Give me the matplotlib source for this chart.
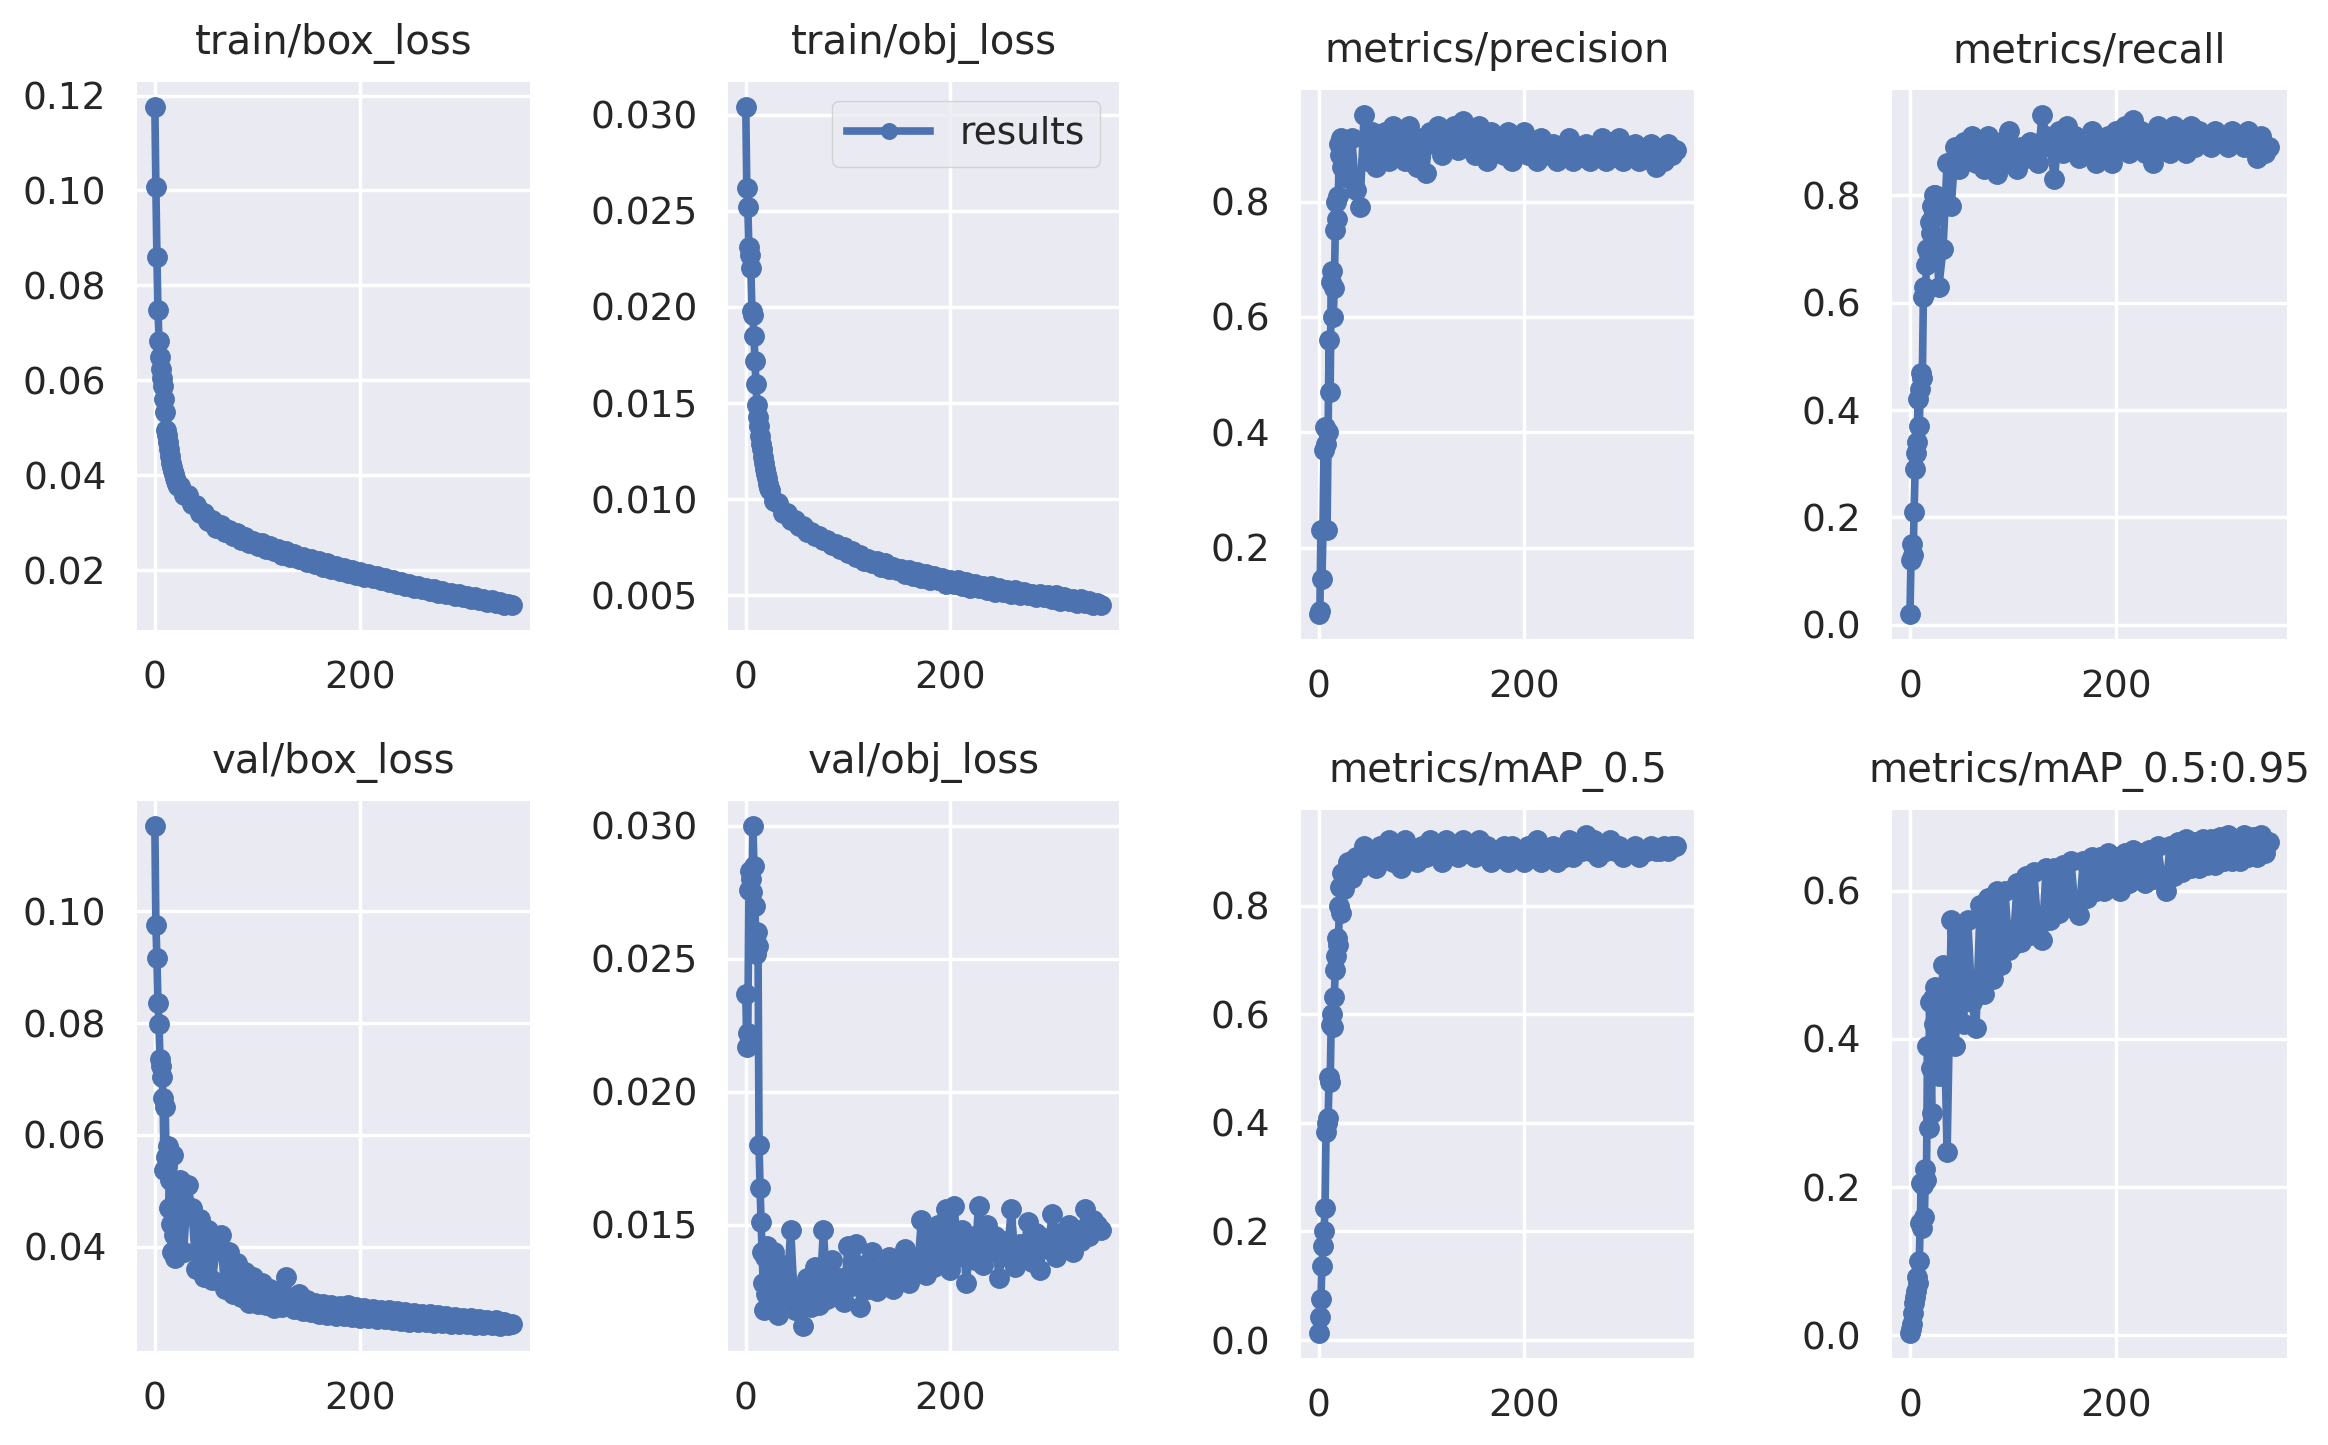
import matplotlib
matplotlib.use('Agg')
import matplotlib.pyplot as plt

# epochs: every epoch for the first 24, then every 4th epoch
epoch = list(range(0, 24)) + list(range(24, 349, 4))

train_box_loss = [
    0.1176, 0.1007, 0.0859, 0.0748, 0.0684, 0.0650, 0.0625, 0.0605, 0.0588, 0.0560, 0.0534, 0.0495,
    0.0485, 0.0470, 0.0455, 0.0440, 0.0427, 0.0418, 0.0410, 0.0402, 0.0395, 0.0388, 0.0382, 0.0377,
    0.0378, 0.0358, 0.0358, 0.0340, 0.0338, 0.0320, 0.0321, 0.0305, 0.0306, 0.0290,
    0.0295, 0.0281, 0.0286, 0.0273, 0.0278, 0.0265, 0.0270, 0.0257, 0.0262, 0.0252,
    0.0258, 0.0245, 0.0251, 0.0240, 0.0246, 0.0233, 0.0241, 0.0228, 0.0235, 0.0223,
    0.0229, 0.0217, 0.0224, 0.0213, 0.0219, 0.0208, 0.0215, 0.0203, 0.0210, 0.0199,
    0.0205, 0.0195, 0.0201, 0.0191, 0.0197, 0.0187, 0.0193, 0.0183, 0.0188, 0.0179,
    0.0184, 0.0175, 0.0180, 0.0171, 0.0176, 0.0168, 0.0172, 0.0164, 0.0168, 0.0160,
    0.0164, 0.0156, 0.0160, 0.0153, 0.0157, 0.0150, 0.0153, 0.0146, 0.0150, 0.0143,
    0.0146, 0.0140, 0.0143, 0.0137, 0.0140, 0.0134, 0.0137, 0.0131, 0.0134, 0.0128,
    0.0130, 0.0127,
]

train_obj_loss = [
    0.0304, 0.0262, 0.0252, 0.0231, 0.0227, 0.0220, 0.0198, 0.0196, 0.0185, 0.0172, 0.0160, 0.0149,
    0.0143, 0.0138, 0.0133, 0.0129, 0.0126, 0.0122, 0.0119, 0.0116, 0.0113, 0.0111, 0.0108, 0.0106,
    0.0105, 0.0099, 0.0098, 0.0093, 0.0093, 0.0089, 0.0089, 0.0086, 0.0086, 0.0083,
    0.0083, 0.0081, 0.0081, 0.0079, 0.0079, 0.0076, 0.0077, 0.0074, 0.0075, 0.0072,
    0.0073, 0.0070, 0.0071, 0.0068, 0.0069, 0.0067, 0.0068, 0.0065, 0.0067, 0.0064,
    0.0065, 0.0063, 0.0064, 0.0061, 0.0063, 0.0060, 0.0062, 0.0059, 0.0061, 0.0058,
    0.0060, 0.0058, 0.0059, 0.0056, 0.0058, 0.0056, 0.0058, 0.0055, 0.0057, 0.0054,
    0.0056, 0.0054, 0.0055, 0.0053, 0.0055, 0.0052, 0.0054, 0.0052, 0.0053, 0.0051,
    0.0053, 0.0050, 0.0052, 0.0050, 0.0051, 0.0049, 0.0051, 0.0049, 0.0050, 0.0048,
    0.0050, 0.0047, 0.0049, 0.0047, 0.0048, 0.0046, 0.0048, 0.0046, 0.0047, 0.0045,
    0.0046, 0.0045,
]

precision = [
    0.085, 0.090, 0.230, 0.145, 0.230, 0.370, 0.410, 0.380, 0.230, 0.400, 0.560, 0.470,
    0.660, 0.680, 0.600, 0.650, 0.750, 0.800, 0.770, 0.810, 0.900, 0.880, 0.910, 0.860,
    0.900, 0.840, 0.910, 0.820, 0.790, 0.950, 0.870, 0.920, 0.860, 0.900,
    0.920, 0.870, 0.930, 0.880, 0.910, 0.870, 0.930, 0.890, 0.860, 0.910,
    0.850, 0.920, 0.900, 0.930, 0.880, 0.920, 0.910, 0.930, 0.890, 0.940,
    0.900, 0.920, 0.880, 0.930, 0.910, 0.870, 0.920, 0.890, 0.900, 0.880,
    0.920, 0.870, 0.910, 0.890, 0.920, 0.880, 0.900, 0.870, 0.910, 0.890,
    0.880, 0.900, 0.870, 0.890, 0.880, 0.910, 0.870, 0.890, 0.880, 0.900,
    0.870, 0.890, 0.880, 0.910, 0.870, 0.900, 0.880, 0.910, 0.870, 0.890,
    0.880, 0.900, 0.870, 0.890, 0.880, 0.900, 0.860, 0.890, 0.870, 0.900,
    0.880, 0.890,
]

recall = [
    0.020, 0.120, 0.150, 0.130, 0.210, 0.290, 0.320, 0.340, 0.420, 0.370, 0.440, 0.470,
    0.460, 0.610, 0.630, 0.620, 0.670, 0.700, 0.690, 0.750, 0.730, 0.780, 0.760, 0.800,
    0.800, 0.630, 0.700, 0.860, 0.780, 0.890, 0.850, 0.900, 0.870, 0.910,
    0.860, 0.890, 0.850, 0.910, 0.870, 0.840, 0.900, 0.860, 0.920, 0.880,
    0.850, 0.890, 0.870, 0.900, 0.880, 0.860, 0.950, 0.910, 0.890, 0.830,
    0.920, 0.880, 0.930, 0.890, 0.910, 0.870, 0.900, 0.880, 0.920, 0.860,
    0.900, 0.870, 0.910, 0.860, 0.920, 0.890, 0.930, 0.880, 0.940, 0.900,
    0.920, 0.880, 0.910, 0.860, 0.930, 0.890, 0.920, 0.880, 0.930, 0.900,
    0.910, 0.880, 0.930, 0.890, 0.920, 0.900, 0.910, 0.890, 0.920, 0.900,
    0.910, 0.890, 0.920, 0.900, 0.910, 0.890, 0.920, 0.900, 0.870, 0.910,
    0.880, 0.890,
]

val_box_loss = [
    0.1153, 0.0975, 0.0917, 0.0837, 0.0798, 0.0736, 0.0723, 0.0703, 0.0666, 0.0538, 0.0650, 0.0560,
    0.0545, 0.0580, 0.0470, 0.0520, 0.0440, 0.0390, 0.0564, 0.0420, 0.0380, 0.0500, 0.0410, 0.0460,
    0.0520, 0.0390, 0.0510, 0.0469, 0.0360, 0.0450, 0.0345, 0.0430, 0.0340, 0.0400,
    0.0420, 0.0325, 0.0390, 0.0315, 0.0370, 0.0310, 0.0355, 0.0300, 0.0345, 0.0298,
    0.0335, 0.0295, 0.0325, 0.0290, 0.0320, 0.0292, 0.0345, 0.0300, 0.0288, 0.0315,
    0.0285, 0.0305, 0.0283, 0.0300, 0.0280, 0.0298, 0.0278, 0.0296, 0.0276, 0.0294,
    0.0276, 0.0295, 0.0274, 0.0292, 0.0273, 0.0290, 0.0272, 0.0288, 0.0270, 0.0287,
    0.0270, 0.0286, 0.0268, 0.0284, 0.0267, 0.0283, 0.0266, 0.0282, 0.0265, 0.0280,
    0.0265, 0.0279, 0.0264, 0.0277, 0.0263, 0.0276, 0.0262, 0.0274, 0.0261, 0.0273,
    0.0261, 0.0272, 0.0260, 0.0270, 0.0259, 0.0269, 0.0259, 0.0268, 0.0258, 0.0266,
    0.0259, 0.0262,
]

val_obj_loss = [
    0.0237, 0.0217, 0.0222, 0.0276, 0.0283, 0.0280, 0.0275, 0.0300, 0.0285, 0.0270, 0.0252, 0.0260,
    0.0255, 0.0180, 0.0164, 0.0151, 0.0140, 0.0128, 0.0118, 0.0138, 0.0124, 0.0142, 0.0119, 0.0132,
    0.0121, 0.0140, 0.0116, 0.0135, 0.0123, 0.0148, 0.0118, 0.0126, 0.0112, 0.0130,
    0.0119, 0.0134, 0.0120, 0.0148, 0.0122, 0.0137, 0.0124, 0.0130, 0.0121, 0.0142,
    0.0127, 0.0143, 0.0119, 0.0135, 0.0126, 0.0140, 0.0125, 0.0133, 0.0128, 0.0138,
    0.0126, 0.0135, 0.0130, 0.0141, 0.0128, 0.0137, 0.0132, 0.0152, 0.0131, 0.0145,
    0.0134, 0.0150, 0.0136, 0.0156, 0.0133, 0.0157, 0.0138, 0.0148, 0.0128, 0.0146,
    0.0137, 0.0157, 0.0135, 0.0150, 0.0140, 0.0146, 0.0130, 0.0144, 0.0138, 0.0156,
    0.0134, 0.0143, 0.0139, 0.0151, 0.0136, 0.0147, 0.0133, 0.0145, 0.0141, 0.0154,
    0.0138, 0.0147, 0.0142, 0.0150, 0.0140, 0.0148, 0.0144, 0.0156, 0.0146, 0.0152,
    0.0150, 0.0148,
]

map_05 = [
    0.013, 0.042, 0.076, 0.137, 0.174, 0.200, 0.244, 0.383, 0.400, 0.408, 0.484, 0.476,
    0.580, 0.600, 0.577, 0.632, 0.682, 0.707, 0.741, 0.728, 0.800, 0.834, 0.787, 0.860,
    0.830, 0.880, 0.850, 0.890, 0.870, 0.910, 0.880, 0.900, 0.870, 0.910,
    0.890, 0.920, 0.880, 0.910, 0.870, 0.920, 0.890, 0.900, 0.880, 0.910,
    0.890, 0.920, 0.900, 0.910, 0.880, 0.920, 0.900, 0.910, 0.890, 0.920,
    0.900, 0.910, 0.890, 0.920, 0.900, 0.910, 0.880, 0.900, 0.890, 0.910,
    0.880, 0.910, 0.890, 0.900, 0.880, 0.910, 0.890, 0.920, 0.880, 0.900,
    0.890, 0.910, 0.880, 0.900, 0.890, 0.920, 0.890, 0.910, 0.900, 0.930,
    0.900, 0.920, 0.890, 0.910, 0.900, 0.920, 0.900, 0.910, 0.890, 0.900,
    0.900, 0.910, 0.890, 0.900, 0.900, 0.910, 0.900, 0.900, 0.910, 0.900,
    0.910, 0.910,
]

map_05_095 = [
    0.003, 0.008, 0.015, 0.030, 0.043, 0.052, 0.060, 0.079, 0.070, 0.100, 0.152, 0.206,
    0.145, 0.203, 0.160, 0.225, 0.210, 0.390, 0.280, 0.450, 0.360, 0.300, 0.455, 0.420,
    0.470, 0.350, 0.500, 0.247, 0.560, 0.390, 0.540, 0.420, 0.560, 0.450,
    0.415, 0.580, 0.460, 0.590, 0.480, 0.600, 0.500, 0.600, 0.520, 0.527,
    0.610, 0.530, 0.620, 0.540, 0.625, 0.550, 0.533, 0.630, 0.560, 0.630,
    0.570, 0.635, 0.580, 0.640, 0.575, 0.567, 0.640, 0.590, 0.645, 0.600,
    0.645, 0.600, 0.650, 0.605, 0.645, 0.600, 0.650, 0.610, 0.655, 0.615,
    0.650, 0.610, 0.655, 0.615, 0.660, 0.620, 0.600, 0.660, 0.620, 0.665,
    0.625, 0.670, 0.630, 0.665, 0.630, 0.670, 0.635, 0.670, 0.635, 0.672,
    0.640, 0.675, 0.640, 0.670, 0.640, 0.675, 0.645, 0.672, 0.645, 0.675,
    0.650, 0.665,
]

titles = ['train/box_loss', 'train/obj_loss', 'metrics/precision', 'metrics/recall',
          'val/box_loss', 'val/obj_loss', 'metrics/mAP_0.5', 'metrics/mAP_0.5:0.95']
series = [train_box_loss, train_obj_loss, precision, recall,
          val_box_loss, val_obj_loss, map_05, map_05_095]
yticks = [
    [0.02, 0.04, 0.06, 0.08, 0.10, 0.12],
    [0.005, 0.010, 0.015, 0.020, 0.025, 0.030],
    [0.2, 0.4, 0.6, 0.8],
    [0.0, 0.2, 0.4, 0.6, 0.8],
    [0.04, 0.06, 0.08, 0.10],
    [0.015, 0.020, 0.025, 0.030],
    [0.0, 0.2, 0.4, 0.6, 0.8],
    [0.0, 0.2, 0.4, 0.6],
]

# axes boxes in pixels (left, top, right, bottom)
boxes = [
    (137, 82, 530, 630), (728, 82, 1119, 630), (1301, 90, 1694, 639), (1892, 90, 2287, 639),
    (137, 801, 530, 1351), (728, 801, 1119, 1351), (1301, 810, 1694, 1358), (1892, 810, 2287, 1358),
]

W, H = 2328, 1445
plt.rcParams.update({
    'font.family': 'DejaVu Sans',
    'text.color': '#262626',
    'xtick.color': '#262626',
    'ytick.color': '#262626',
    'axes.facecolor': '#EAEAF2',
    'axes.edgecolor': 'white',
    'grid.color': 'white',
})

fig = plt.figure(figsize=(W / 100, H / 100), dpi=100)
for name, vals, yt, (x0, y0, x1, y1) in zip(titles, series, yticks, boxes):
    ax = fig.add_axes([x0 / W, 1 - y1 / H, (x1 - x0) / W, (y1 - y0) / H])
    ax.plot(epoch, vals, marker='o', linewidth=5.5, markersize=14, color='#4C72B0', label='results')
    ax.set_title(name, fontsize=29, pad=20)
    ax.set_xticks([0, 200])
    ax.set_yticks(yt)
    ax.tick_params(length=0, labelsize=27, pad=22)
    ax.grid(True, color='white', linewidth=2.5)
    ax.set_axisbelow(True)
    for s in ax.spines.values():
        s.set_visible(False)
    if name == 'train/obj_loss':
        ax.legend(loc='upper right', fontsize=27, facecolor='#EAEAF2', edgecolor='#cccccc',
                  framealpha=0.8, handlelength=2.2, markerscale=0.8)

fig.savefig('out.png', dpi=100, facecolor='white')
